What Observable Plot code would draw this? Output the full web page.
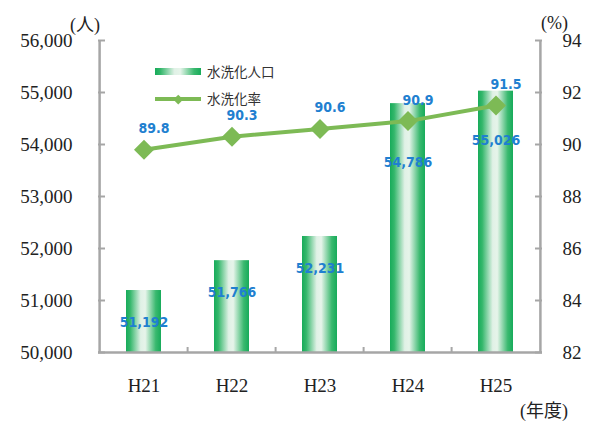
<!DOCTYPE html>
<html>
<head>
<meta charset="utf-8">
<script src="https://cdn.jsdelivr.net/npm/d3@7"></script>
<script src="https://cdn.jsdelivr.net/npm/@observablehq/plot@0.6"></script>
<style>
  body { margin: 0; background: #fff; }
  #wrap { position: relative; width: 592px; height: 421px; overflow: hidden; }
  .unit { position: absolute; font-family: "Liberation Serif", "DejaVu Serif", "Noto Sans CJK JP", serif; color: #222; font-size: 18px; line-height: 1; white-space: nowrap; }
  .leg { position: absolute; font-family: "Noto Sans CJK JP", sans-serif; color: #333; font-size: 13.5px; line-height: 1; white-space: nowrap; }
</style>
</head>
<body>
<div id="wrap"></div>
<script>
// ---- data ----
const years = ["H21", "H22", "H23", "H24", "H25"];
const population = [51192, 51766, 52231, 54786, 55026];
const rates = [89.8, 90.3, 90.6, 90.9, 91.5];
const leftTicks = [50000, 51000, 52000, 53000, 54000, 55000, 56000];
const rightTicks = [82, 84, 86, 88, 90, 92, 94];
const seriesNames = ["水洗化人口", "水洗化率"];
const unitLabels = ["(人)", "(%)", "(年度)"];

// ---- layout / style ----
const W = 592, H = 421, mL = 98, mR = 50, mT = 40, mB = 69;
const step = (W - mL - mR) / years.length;
const plotH = H - mT - mB;
const axisColor = "#a6a6a6";
const lineColor = "#7dba55";
const labelColor = "#1f80d0";
const serifFont = "Liberation Serif, DejaVu Serif, serif";
const labelFont = "Liberation Sans Narrow, DejaVu Sans Condensed, Liberation Sans, sans-serif";

// right axis (%) mapped onto the left scale
const toLeft = v => leftTicks[0] + (v - rightTicks[0]) * ((leftTicks[1] - leftTicks[0]) / (rightTicks[1] - rightTicks[0]));
const fromLeft = v => rightTicks[0] + (v - leftTicks[0]) / ((leftTicks[1] - leftTicks[0]) / (rightTicks[1] - rightTicks[0]));

const data = years.map((y, i) => ({ year: y, pop: population[i], rate: rates[i], ry: toLeft(rates[i]), i }));

const gradStops = [
  [0, "#17ab5a"], [0.12, "#34b76b"], [0.42, "#e0f1e6"], [0.55, "#e6f4ea"], [0.85, "#3ab96f"], [1, "#17ab5a"]
];

function defsMark() {
  const ns = "http://www.w3.org/2000/svg";
  const defs = document.createElementNS(ns, "defs");
  const g = document.createElementNS(ns, "linearGradient");
  g.setAttribute("id", "barGrad");
  g.setAttribute("x1", "0"); g.setAttribute("x2", "1");
  g.setAttribute("y1", "0"); g.setAttribute("y2", "0");
  for (const [o, c] of gradStops) {
    const s = document.createElementNS(ns, "stop");
    s.setAttribute("offset", o);
    s.setAttribute("stop-color", c);
    g.appendChild(s);
  }
  defs.appendChild(g);
  return defs;
}

const fmt = d3.format(",");
const axisText = { fill: "#222", fontFamily: serifFont, fontSize: 19 };
const chart = Plot.plot({
  width: W, height: H,
  marginLeft: mL, marginRight: mR, marginTop: mT, marginBottom: mB,
  style: { fontFamily: serifFont, fontSize: "19px", color: "#222", background: "#fff" },
  x: { domain: years, paddingInner: 0.6, paddingOuter: 0.3, label: null },
  y: { domain: [leftTicks[0], leftTicks[leftTicks.length - 1]], label: null },
  marks: [
    defsMark,
    Plot.barY(data, { x: "year", y1: leftTicks[0], y2: "pop", fill: "url(#barGrad)" }),
    // axes
    Plot.axisY({ ticks: leftTicks, tickFormat: fmt, tickSize: 0, tickPadding: 26, ...axisText }),
    Plot.axisY({ anchor: "right", ticks: rightTicks.map(toLeft), tickFormat: d => String(Math.round(fromLeft(d))), tickSize: 0, tickPadding: 20, ...axisText }),
    Plot.axisX({ tickSize: 0, tickPadding: 26, ...axisText }),
    Plot.ruleX([years[0]], { dx: -step / 2, stroke: axisColor, strokeWidth: 2.5 }),
    Plot.ruleX([years[years.length - 1]], { dx: step / 2, stroke: axisColor, strokeWidth: 2.5 }),
    Plot.ruleY([leftTicks[0]], { stroke: axisColor, strokeWidth: 2.5 }),
    Plot.ruleY(leftTicks, { stroke: axisColor, strokeWidth: 2, insetRight: step * years.length - 7 }),
    Plot.ruleY(leftTicks, { stroke: axisColor, strokeWidth: 2, insetLeft: step * years.length - 7 }),
    Plot.ruleX(years.slice(1), { dx: -step / 2, stroke: axisColor, strokeWidth: 2, insetTop: plotH - 5 }),
    // line series
    Plot.line(data, { x: "year", y: "ry", stroke: lineColor, strokeWidth: 4 }),
    Plot.dot(data, { x: "year", y: "ry", symbol: "diamond2", r: 9, fill: lineColor, stroke: "none" }),
    Plot.text(data, { x: "year", y: "ry", text: d => d.rate.toFixed(1), dy: -21, dx: 10, fill: labelColor, fontWeight: "bold", fontSize: 14, fontFamily: labelFont }),
    // bar labels
    Plot.text(data.filter(d => d.i < 3), { x: "year", y: "pop", text: d => fmt(d.pop), dy: 32, fill: labelColor, fontWeight: "bold", fontSize: 14, fontFamily: labelFont }),
    Plot.text(data.filter(d => d.i === 3), { x: "year", y: "pop", text: d => fmt(d.pop), dy: 59, fill: labelColor, fontWeight: "bold", fontSize: 14, fontFamily: labelFont }),
    Plot.text(data.filter(d => d.i === 4), { x: "year", y: "pop", text: d => fmt(d.pop), dy: 49, fill: labelColor, fontWeight: "bold", fontSize: 14, fontFamily: labelFont })
  ]
});

const wrap = document.getElementById("wrap");
wrap.appendChild(chart);

function addDiv(cls, text, css) {
  const d = document.createElement("div");
  d.className = cls;
  if (text) d.textContent = text;
  Object.assign(d.style, css);
  wrap.appendChild(d);
  return d;
}
// unit labels
addDiv("unit", unitLabels[0], { left: "70px", top: "16px" });
addDiv("unit", unitLabels[1], { left: "541px", top: "14px" });
addDiv("unit", unitLabels[2], { left: "520px", top: "402px" });

// legend
const gradCss = "linear-gradient(to right," + gradStops.map(([o, c]) => c + " " + (o * 100) + "%").join(",") + ")";
addDiv("leg-sw", "", { position: "absolute", left: "155px", top: "68px", width: "46px", height: "7px", background: gradCss });
addDiv("leg", seriesNames[0], { left: "207px", top: "65px" });
addDiv("leg-sw", "", { position: "absolute", left: "155px", top: "97px", width: "46px", height: "3.5px", background: lineColor });
addDiv("leg-sw", "", { position: "absolute", left: "175px", top: "95.5px", width: "6.5px", height: "6.5px", background: lineColor, transform: "rotate(45deg)" });
addDiv("leg", seriesNames[1], { left: "207px", top: "92px" });
</script>
</body>
</html>
